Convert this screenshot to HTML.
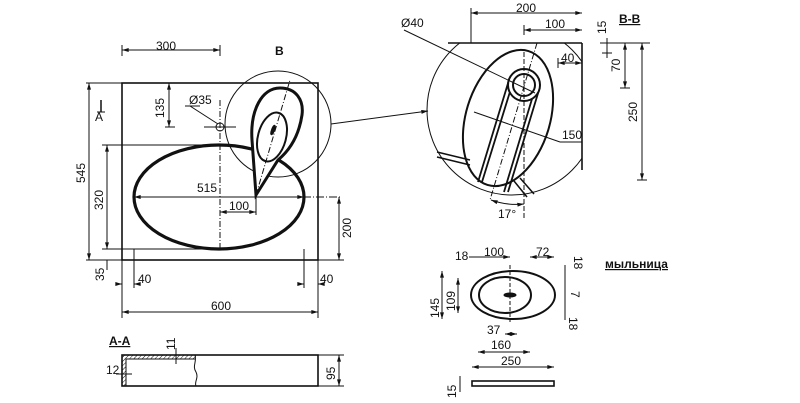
<!DOCTYPE html>
<html><head><meta charset="utf-8"><style>
html,body{margin:0;padding:0;background:#fff;width:800px;height:403px;overflow:hidden}
text{font-family:"Liberation Sans",Arial,sans-serif;font-size:12px;fill:#111}
</style></head><body>
<svg width="800" height="403" viewBox="0 0 800 403" xmlns="http://www.w3.org/2000/svg">
<defs>
<marker id="a" viewBox="0 0 10 6" refX="10" refY="3" markerWidth="7" markerHeight="4" orient="auto-start-reverse"><path d="M0,0L10,3L0,6z" fill="#111"/></marker>
<pattern id="h" width="3" height="3" patternUnits="userSpaceOnUse" patternTransform="rotate(45)"><line x1="0" y1="0" x2="0" y2="3" stroke="#111" stroke-width="1"/></pattern>
<clipPath id="cp"><rect x="380" y="43" width="202" height="160"/></clipPath>
</defs>
<g stroke="#111" fill="none" stroke-width="1">
<rect x="122" y="83" width="196" height="177" stroke-width="1.6"/>
<ellipse cx="219" cy="197" rx="85" ry="52" stroke-width="3.2"/>
<circle cx="278" cy="124" r="53"/>
<path d="M256,195 L252,140 C250,110 262,88 280,88 C296,88 304,100 302,115 C299,135 290,150 278,160 Z" stroke-width="3" fill="#fff"/>
<ellipse cx="272" cy="137" rx="14" ry="25" transform="rotate(15 272 137)" stroke-width="2"/>
<line x1="256" y1="195" x2="290" y2="80" stroke-dasharray="6,2,1,2"/>
<ellipse cx="273" cy="130" rx="1.5" ry="5" transform="rotate(20 273 130)" fill="#111"/>
<line x1="220" y1="100" x2="220" y2="250" stroke-dasharray="6,2,1,2"/>
<line x1="204" y1="127" x2="236" y2="127"/>
<circle cx="220" cy="127" r="4"/>
<line x1="190" y1="106" x2="218" y2="124"/><line x1="185" y1="106" x2="200" y2="106"/>
<line x1="122" y1="45" x2="122" y2="56"/><line x1="220" y1="45" x2="220" y2="56"/>
<line x1="122" y1="50" x2="220" y2="50" marker-start="url(#a)" marker-end="url(#a)"/>
<line x1="165" y1="127" x2="175" y2="127"/>
<line x1="169" y1="83" x2="169" y2="127" marker-start="url(#a)" marker-end="url(#a)"/>
<line x1="86" y1="83" x2="122" y2="83"/><line x1="86" y1="260" x2="122" y2="260"/>
<line x1="89" y1="83" x2="89" y2="260" marker-start="url(#a)" marker-end="url(#a)"/>
<line x1="102" y1="145" x2="219" y2="145"/><line x1="102" y1="249" x2="219" y2="249"/>
<line x1="107" y1="145" x2="107" y2="249" marker-start="url(#a)" marker-end="url(#a)"/>
<line x1="107" y1="260" x2="107" y2="270"/>
<line x1="134" y1="197" x2="340" y2="197" stroke-dasharray="8,2,1,2"/>
<line x1="134" y1="197" x2="304" y2="197" marker-start="url(#a)" marker-end="url(#a)"/>
<line x1="256" y1="195" x2="256" y2="215"/>
<line x1="220" y1="212" x2="256" y2="212" marker-start="url(#a)" marker-end="url(#a)"/>
<line x1="318" y1="260" x2="344" y2="260"/>
<line x1="339" y1="197" x2="339" y2="260" marker-start="url(#a)" marker-end="url(#a)"/>
<line x1="134" y1="249" x2="134" y2="288"/><line x1="304" y1="249" x2="304" y2="288"/>
<line x1="122" y1="260" x2="122" y2="318"/><line x1="318" y1="260" x2="318" y2="318"/>
<line x1="116" y1="284" x2="122" y2="284" marker-end="url(#a)"/><line x1="134" y1="284" x2="140" y2="284" marker-start="url(#a)"/>
<line x1="300" y1="284" x2="304" y2="284" marker-end="url(#a)"/><line x1="318" y1="284" x2="322" y2="284" marker-start="url(#a)"/>
<line x1="122" y1="312" x2="318" y2="312" marker-start="url(#a)" marker-end="url(#a)"/>
<line x1="101" y1="112" x2="101" y2="100" stroke-width="1.5"/><line x1="97" y1="112" x2="105" y2="112"/>
<line x1="331" y1="124" x2="428" y2="111" marker-end="url(#a)"/>
<rect x="122" y="355" width="196" height="31" stroke-width="1.6"/>
<rect x="122" y="355" width="4" height="31" fill="url(#h)" stroke="none"/>
<rect x="122" y="355" width="74" height="4" fill="url(#h)" stroke="none"/>
<line x1="126" y1="359" x2="195" y2="359"/><line x1="126" y1="359" x2="126" y2="386"/>
<path d="M195,355 C197,362 192,366 196,372 C199,378 194,382 196,386"/>
<line x1="176" y1="348" x2="176" y2="364"/>
<line x1="116" y1="374" x2="132" y2="374"/>
<line x1="318" y1="355" x2="344" y2="355"/><line x1="318" y1="386" x2="344" y2="386"/>
<line x1="339" y1="355" x2="339" y2="386" marker-start="url(#a)" marker-end="url(#a)"/>
<g clip-path="url(#cp)"><circle cx="512" cy="110" r="85"/>
<path d="M437,152 L470,160 M437,157 L470,165 M520,178 L534,194 M514,181 L527,197" stroke-width="1.5"/>
<ellipse cx="508" cy="118" rx="42" ry="70" transform="rotate(17 508 118)" stroke-width="2"/>
<path d="M509,80 L478,182 M513,82 L482,182 M539,90 L508,192 M535,89 L504,192" stroke-width="1.8"/>
</g>
<line x1="448" y1="43" x2="582" y2="43" stroke-width="1.6"/>
<line x1="582" y1="43" x2="582" y2="170" stroke-width="1.6"/>
<circle cx="524" cy="85" r="16" stroke-width="2" fill="#fff"/>
<circle cx="524" cy="85" r="11" stroke-width="2"/>
<line x1="524" y1="52" x2="524" y2="220" stroke-dasharray="5,2"/>
<line x1="537" y1="43" x2="490" y2="200" stroke-dasharray="6,2,1,2"/>
<line x1="404" y1="30" x2="535" y2="93"/>
<line x1="474" y1="112" x2="560" y2="142"/><line x1="560" y1="142" x2="582" y2="142"/>
<line x1="471" y1="8" x2="471" y2="43"/>
<line x1="471" y1="13" x2="582" y2="13" marker-start="url(#a)" marker-end="url(#a)"/>
<line x1="524" y1="25" x2="524" y2="35"/>
<line x1="524" y1="30" x2="582" y2="30" marker-start="url(#a)" marker-end="url(#a)"/>
<line x1="558" y1="58" x2="558" y2="68"/>
<line x1="558" y1="63" x2="582" y2="63" marker-start="url(#a)" marker-end="url(#a)"/>
<path d="M491,200 A75,75 0 0 0 524,204" marker-start="url(#a)" marker-end="url(#a)"/>
<line x1="600" y1="43" x2="650" y2="43"/><line x1="620" y1="88" x2="630" y2="88"/><line x1="637" y1="180" x2="647" y2="180"/>
<line x1="607" y1="38" x2="607" y2="58"/><line x1="602" y1="43" x2="612" y2="43"/><line x1="602" y1="53" x2="612" y2="53"/>
<line x1="625" y1="43" x2="625" y2="88" marker-start="url(#a)" marker-end="url(#a)"/>
<line x1="642" y1="43" x2="642" y2="180" marker-start="url(#a)" marker-end="url(#a)"/>
<ellipse cx="513" cy="295" rx="42" ry="24" stroke-width="2"/>
<ellipse cx="505" cy="295" rx="26" ry="18" stroke-width="2"/>
<ellipse cx="510" cy="295" rx="6" ry="2" fill="#111"/>
<line x1="510" y1="265" x2="510" y2="322" stroke-dasharray="4,2"/>
<line x1="469" y1="257" x2="510" y2="257" marker-end="url(#a)"/>
<line x1="530" y1="257" x2="554" y2="257" marker-start="url(#a)" marker-end="url(#a)"/>
<line x1="442" y1="271" x2="442" y2="319" marker-start="url(#a)" marker-end="url(#a)"/>
<line x1="458" y1="278" x2="458" y2="313" marker-start="url(#a)" marker-end="url(#a)"/>
<line x1="565" y1="265" x2="565" y2="320"/>
<line x1="505" y1="334" x2="517" y2="334" marker-start="url(#a)" marker-end="url(#a)"/>
<line x1="478" y1="352" x2="530" y2="352" marker-start="url(#a)" marker-end="url(#a)"/>
<line x1="472" y1="367" x2="554" y2="367" marker-start="url(#a)" marker-end="url(#a)"/>
<rect x="472" y="381" width="82" height="5" stroke-width="1.6"/>
<line x1="460" y1="376" x2="460" y2="392"/>
</g>
<text x="156" y="50" font-size="13">300</text>
<text x="275" y="55" font-size="14" font-weight="bold">B</text>
<text x="95" y="121" font-size="15">A</text>
<text x="189" y="104" font-size="10">Ø35</text>
<text x="164" y="118" transform="rotate(-90 164 118)" font-size="12">135</text>
<text x="85" y="183" transform="rotate(-90 85 183)" font-size="13">545</text>
<text x="103" y="210" transform="rotate(-90 103 210)" font-size="13">320</text>
<text x="104" y="281" transform="rotate(-90 104 281)" font-size="12">35</text>
<text x="197" y="192" font-size="12">515</text>
<text x="229" y="210" font-size="12">100</text>
<text x="351" y="238" transform="rotate(-90 351 238)" font-size="12">200</text>
<text x="138" y="283" font-size="12">40</text>
<text x="320" y="283" font-size="12">40</text>
<text x="211" y="310" font-size="13">600</text>
<text x="109" y="345" font-size="14" font-weight="bold" text-decoration="underline">A-A</text>
<text x="175" y="350" transform="rotate(-90 175 350)" font-size="11">11</text>
<text x="106" y="374" font-size="11">12</text>
<text x="335" y="380" transform="rotate(-90 335 380)" font-size="11">95</text>
<text x="401" y="27" font-size="12">Ø40</text>
<text x="516" y="12" font-size="12">200</text>
<text x="545" y="28" font-size="12">100</text>
<text x="561" y="62" font-size="12">40</text>
<text x="562" y="139" font-size="12">150</text>
<text x="498" y="218" font-size="11">17°</text>
<text x="619" y="23" font-size="14" font-weight="bold" text-decoration="underline">B-B</text>
<text x="606" y="34" transform="rotate(-90 606 34)" font-size="10">15</text>
<text x="620" y="72" transform="rotate(-90 620 72)" font-size="11">70</text>
<text x="637" y="122" transform="rotate(-90 637 122)" font-size="12">250</text>
<text x="455" y="260" font-size="11">18</text>
<text x="484" y="256" font-size="12">100</text>
<text x="536" y="256" font-size="12">72</text>
<text x="574" y="256" transform="rotate(90 574 256)" font-size="11">18</text>
<text x="571" y="291" transform="rotate(90 571 291)" font-size="11">7</text>
<text x="569" y="317" transform="rotate(90 569 317)" font-size="11">18</text>
<text x="605" y="268" font-size="10" font-weight="bold" text-decoration="underline" style="font-family:'Liberation Sans','DejaVu Sans',sans-serif">мыльница</text>
<text x="439" y="318" transform="rotate(-90 439 318)" font-size="12">145</text>
<text x="455" y="311" transform="rotate(-90 455 311)" font-size="12">109</text>
<text x="487" y="334" font-size="12">37</text>
<text x="491" y="349" font-size="12">160</text>
<text x="501" y="365" font-size="12">250</text>
<text x="456" y="398" transform="rotate(-90 456 398)" font-size="11">15</text>
</svg>
</body></html>
